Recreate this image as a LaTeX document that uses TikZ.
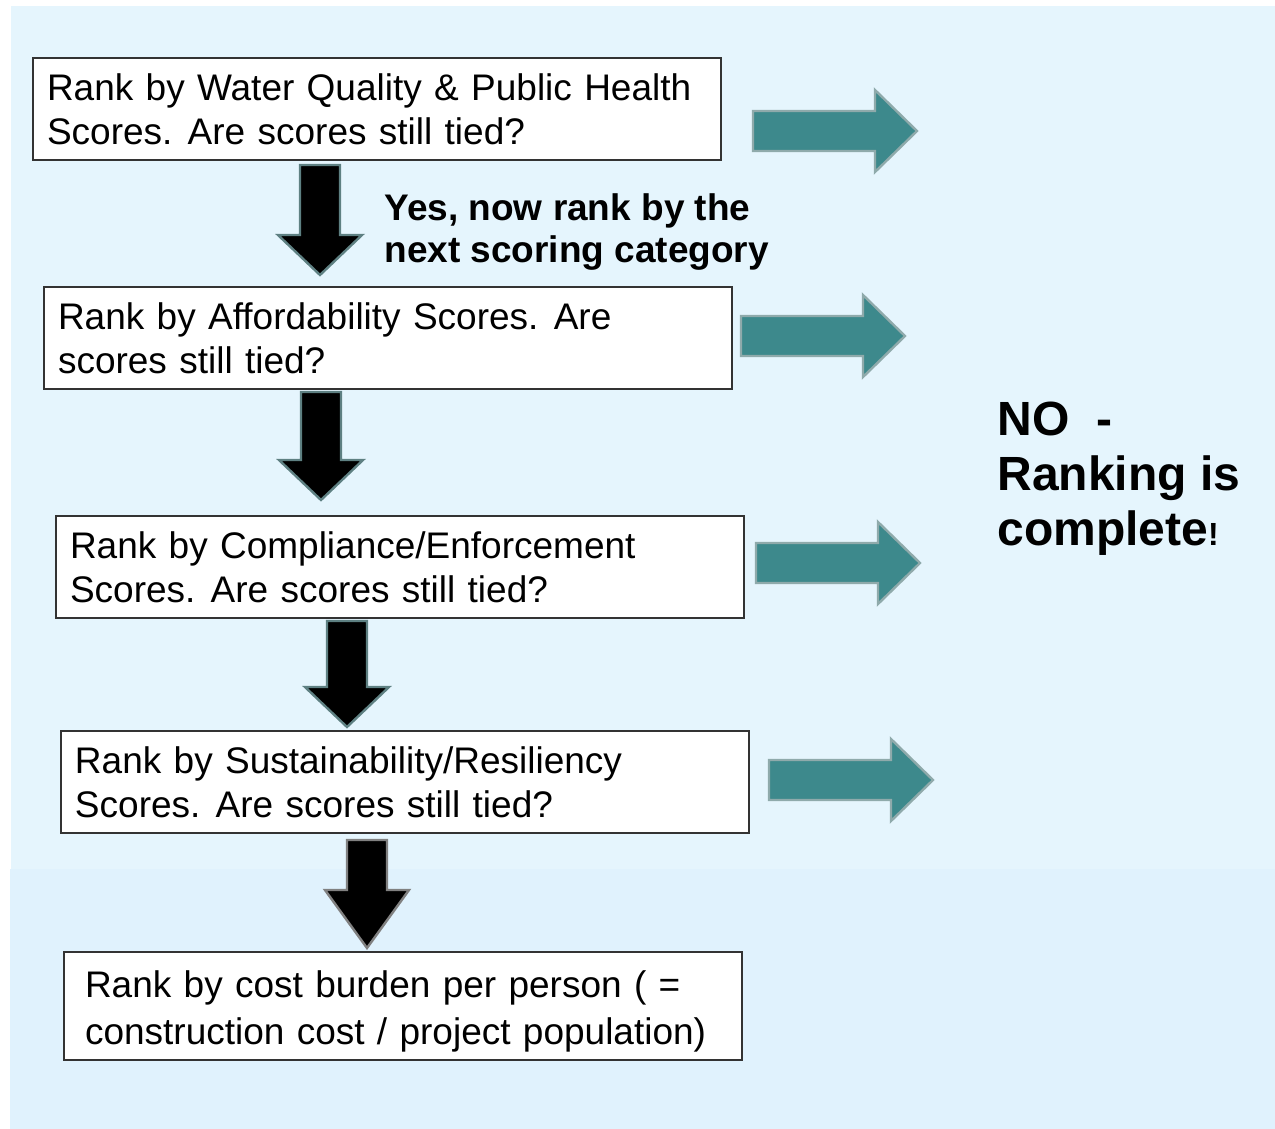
\documentclass[tikz,border=0pt]{standalone}
\usepackage{fontspec}
\setmainfont{Liberation Sans}
\usepackage{tikz}
\usepackage{xcolor}
\usetikzlibrary{positioning}

\definecolor{skyupper}{HTML}{E5F5FD}
\definecolor{skylower}{HTML}{E0F2FD}
\definecolor{tealarrow}{HTML}{3D898C}
\definecolor{tealedge}{HTML}{8FAAAB}
\definecolor{glowedge}{HTML}{5E8082}

\tikzset{
  stepbox/.style={draw=black!80, line width=1pt, fill=white, anchor=north west,
    inner xsep=7pt, inner ysep=0pt, align=left, minimum width=344pt,
    minimum height=51pt, text width=330pt, font=\fontsize{18.5}{22}\selectfont},
  downfill/.style={fill=black, draw=glowedge, line width=1.2pt},
  rightfill/.style={fill=tealarrow, draw=tealedge, line width=1.2pt},
  boldnote/.style={anchor=north west, inner sep=0pt, align=left, font=\bfseries}
}

% block arrows: x, top, tip, head length
\newcommand\downblock[5][downfill]{%
  \filldraw[#1] (#2-20,#3) -- (#2+20,#3) -- (#2+20,#4-#5) -- (#2+42,#4-#5)
    -- (#2,#4) -- (#2-42,#4-#5) -- (#2-20,#4-#5) -- cycle;}
% x start, middle
\newcommand\rightblock[2]{%
  \filldraw[rightfill] (#1,#2-20) -- (#1+122,#2-20) -- (#1+122,#2-41)
    -- (#1+164,#2) -- (#1+122,#2+41) -- (#1+122,#2+20) -- (#1,#2+20) -- cycle;}
\newcommand\gap{\kern1.5pt\ }

\begin{document}
\begin{tikzpicture}[x=0.5pt, y=-0.5pt]
\useasboundingbox (0,0) rectangle (1275,1129);
\fill[white] (0,0) rectangle (1275,1129);
\fill[skyupper] (11,6) rectangle (1275,869);
\fill[skylower] (10,869) rectangle (1275,1129);

\node[stepbox] (quality) at (32,57) {Rank by Water Quality \& Public Health\\Scores.\gap Are scores still tied?};
\node[stepbox] (afford) at (43,286) {Rank by Affordability Scores.\gap Are\\scores still tied?};
\node[stepbox] (comply) at (55,515) {Rank by Compliance/Enforcement\\Scores.\gap Are scores still tied?};
\node[stepbox] (sustain) at (60,730) {Rank by Sustainability/Resiliency\\Scores.\gap Are scores still tied?};
\node[stepbox, minimum width=339pt, minimum height=54pt, inner xsep=10.5pt,
  text width=318pt, font=\fontsize{18.5}{23.5}\selectfont] (cost) at (63,951)
  {\rule{0pt}{18.5pt}Rank by cost burden per person ( =\\construction cost / project population)};

\downblock{320}{165}{275}{40}
\downblock{321}{392}{500}{40}
\downblock{347}{621}{727}{40}
\downblock[downfill, draw=gray]{367}{840}{948}{58}

\rightblock{753}{131}
\rightblock{741}{336}
\rightblock{756}{563}
\rightblock{769}{780}

\node[boldnote, font=\bfseries\fontsize{18.5}{21}\selectfont] (yesnext) at (384,193)
  {Yes, now rank by the\\next scoring category};
\node[boldnote, font=\bfseries\fontsize{24}{27.5}\selectfont] (complete) at (997,402)
  {NO~ -\\Ranking is\\complete{\fontsize{16}{16}\selectfont!}};

\end{tikzpicture}
\end{document}
